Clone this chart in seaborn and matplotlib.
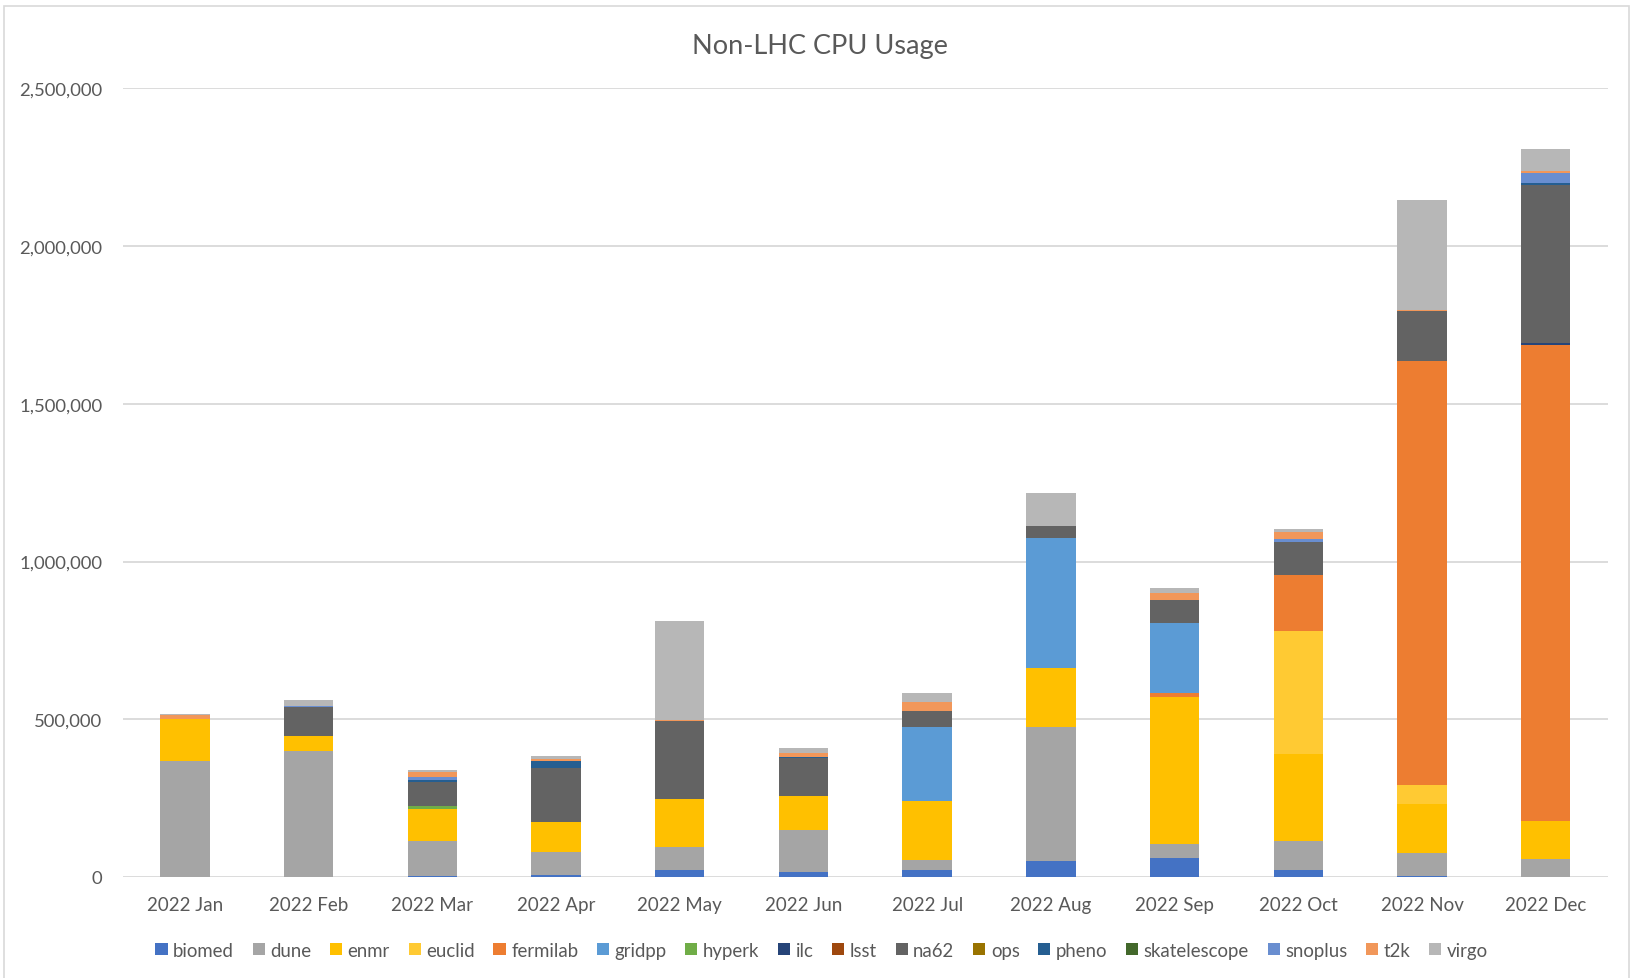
import numpy as np
import pandas as pd
import matplotlib.pyplot as plt
import seaborn as sns
from matplotlib.patches import Patch, Rectangle

# -----------------------------------------------------
# Data (CPU usage per VO)
# -----------------------------------------------------

months = ["2022 Jan", "2022 Feb", "2022 Mar", "2022 Apr", "2022 May", "2022 Jun",
          "2022 Jul", "2022 Aug", "2022 Sep", "2022 Oct", "2022 Nov", "2022 Dec"]

biomed = [0, 0, 2000, 7000, 22000, 15000, 22000, 52000, 61000, 21000, 4000, 0]
dune = [367000, 398000, 111000, 72000, 74000, 135000, 32000, 425000, 45000, 92000, 72000, 58000]
enmr = [135000, 50000, 102000, 96000, 151000, 108000, 186000, 185000, 466000, 277000, 155000, 120000]
euclid = [0, 0, 0, 0, 0, 0, 0, 0, 0, 389000, 62000, 0]
fermilab = [0, 0, 0, 0, 0, 0, 0, 0, 11000, 179000, 1342000, 1508000]
gridpp = [0, 0, 0, 0, 0, 0, 234000, 414000, 221000, 0, 0, 0]
hyperk = [0, 0, 11000, 0, 0, 0, 0, 0, 0, 0, 0, 0]
ilc = [0, 0, 0, 0, 0, 0, 0, 0, 0, 0, 0, 6000]
lsst = [0, 0, 0, 0, 0, 0, 0, 0, 0, 0, 0, 0]
na62 = [0, 92000, 74000, 170000, 246000, 119000, 52000, 36000, 73000, 103000, 160000, 502000]
ops = [0, 0, 0, 0, 2000, 0, 0, 0, 0, 0, 0, 0]
pheno = [0, 0, 9000, 22000, 0, 3000, 0, 0, 0, 0, 0, 5000]
skatelescope = [0, 0, 0, 0, 0, 0, 0, 0, 0, 0, 0, 0]
snoplus = [0, 3000, 8000, 0, 0, 0, 0, 2000, 0, 11000, 0, 32000]
t2k = [10000, 0, 15000, 8000, 3000, 14000, 29000, 0, 22000, 23000, 3000, 6000]
virgo = [6000, 18000, 7000, 7000, 315000, 16000, 29000, 102000, 16000, 8000, 348000, 72000]

vos = ["biomed", "dune", "enmr", "euclid", "fermilab", "gridpp", "hyperk", "ilc",
       "lsst", "na62", "ops", "pheno", "skatelescope", "snoplus", "t2k", "virgo"]

colors = ["#4472C4", "#A5A5A5", "#FFC000", "#FFCA33", "#ED7D31", "#5B9BD5",
          "#70AD47", "#264478", "#9E480E", "#636363", "#997300", "#255E91",
          "#43682B", "#698ED0", "#F1975A", "#B7B7B7"]

usage = pd.DataFrame({
    "biomed": biomed, "dune": dune, "enmr": enmr, "euclid": euclid,
    "fermilab": fermilab, "gridpp": gridpp, "hyperk": hyperk, "ilc": ilc,
    "lsst": lsst, "na62": na62, "ops": ops, "pheno": pheno,
    "skatelescope": skatelescope, "snoplus": snoplus, "t2k": t2k, "virgo": virgo,
}, index=months)

# -----------------------------------------------------
# Style
# -----------------------------------------------------

sns.set_theme(style="white")
plt.rcParams["font.family"] = ["Lato", "DejaVu Sans"]
text_color = "#595959"
grid_color = "#D9D9D9"

fig = plt.figure(figsize=(16.32, 9.79), dpi=100)
ax = fig.add_axes([0.0754, 0.1032, 0.9096, 0.8054])

# -----------------------------------------------------
# Stacked bars: draw cumulative totals, top series first
# -----------------------------------------------------

cumulative = usage.cumsum(axis=1)

for vo, col in reversed(list(zip(vos, colors))):
    sns.barplot(
        x=months,
        y=cumulative[vo].values,
        color=col,
        width=0.4,
        saturation=1,
        edgecolor="none",
        ax=ax,
    )

ax.set_ylim(0, 2500000)
ax.set_xlim(-0.5, len(months) - 0.5)
ax.set_yticks(np.arange(0, 2500001, 500000))
ax.yaxis.set_major_formatter(plt.FuncFormatter(lambda v, p: f"{int(v):,}"))
ax.grid(axis="y", color=grid_color, linewidth=1.3)
ax.set_axisbelow(True)

for s in ax.spines.values():
    s.set_visible(False)

ax.tick_params(axis="y", length=0, pad=15, labelsize=13.3, labelcolor=text_color)
ax.tick_params(axis="x", length=0, pad=14, labelsize=13.5, labelcolor=text_color)
ax.set_xlabel("")
ax.set_ylabel("")

fig.text(0.5025, 0.952, "Non-LHC CPU Usage", ha="center", va="center",
         fontsize=19.5, color=text_color)

# -----------------------------------------------------
# Legend
# -----------------------------------------------------

handles = [Patch(facecolor=c, edgecolor="none", label=v) for v, c in zip(vos, colors)]

fig.legend(
    handles=handles,
    loc="center",
    bbox_to_anchor=(0.5035, 0.0285),
    ncol=len(vos),
    frameon=False,
    fontsize=13.4,
    handlelength=0.65,
    handleheight=0.65,
    handletextpad=0.3,
    columnspacing=1.0,
    labelcolor=text_color,
)

# chart frame
fig.patches.append(Rectangle((4 / 1632, -0.01), 1625 / 1632, 1.01 - 7 / 979,
                             transform=fig.transFigure, fill=False,
                             edgecolor=grid_color, linewidth=1.2))

fig.savefig("out.png", dpi=100)
